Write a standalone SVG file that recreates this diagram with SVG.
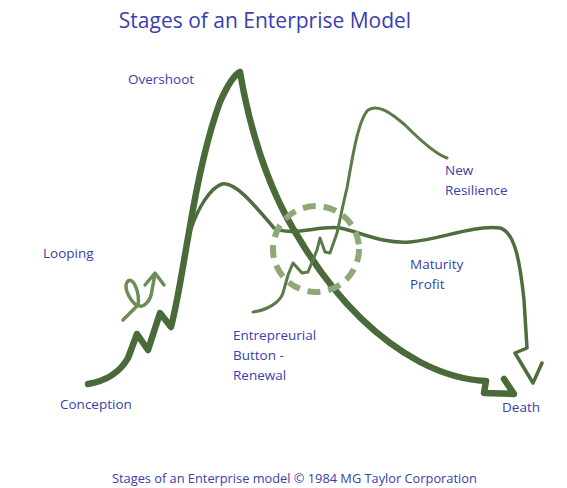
<svg xmlns="http://www.w3.org/2000/svg" width="567" height="488" viewBox="0 0 567 488">
  <style>
    .lbl { font-family: "Open Sans", "Liberation Sans", sans-serif; fill: #3a40ad; font-size: 13.5px; }
    .title { font-size: 21px; }
    .foot { font-size: 12.8px; }
    .thick { fill: none; stroke: #4a6a3a; stroke-width: 6.5; stroke-linecap: round; stroke-linejoin: round; }
    .mid { fill: none; stroke: #4e6e3e; stroke-width: 3.5; stroke-linecap: round; stroke-linejoin: round; }
    .thin { fill: none; stroke: #5a7a48; stroke-width: 3; stroke-linecap: round; stroke-linejoin: round; }
    .light { fill: none; stroke: #6d8d58; stroke-width: 3.5; stroke-linecap: round; stroke-linejoin: round; }
  </style>
  <rect width="567" height="488" fill="#ffffff"/>

  <text class="lbl title" x="265" y="28" text-anchor="middle">Stages of an Enterprise Model</text>

  <g id="curves">
    <!-- growth / overshoot / decline to death -->
    <path id="main-curve" class="thick" d="M88,384 C106,381 120,372 128,358 L137,334 L148,350 L160,313 L171,327 C178,300 183,265 189,232 C196,190 206,140 220,102 C228,84 234,75 240,72 C250,130 268,190 300,240 C330,290 370,335 420,362 C445,375 465,380 486,381 L484,393 L514,394 L504,379"/>
    <!-- maturity / profit branch -->
    <path id="maturity-curve" class="mid" d="M191,229 C198,208 210,188 222,184 C234,181 252,202 274,228 C292,237 320,225 340,228 C360,232 382,244 410,242 C440,240 470,225 500,228 C515,232 520,262 524,300 L527,348 L515,353 L533,383 L542,363"/>
    <!-- renewal / new resilience branch -->
    <path id="resilience-curve" class="thin" d="M253,312 C268,310 280,302 283,293 L288,275 L293,263 L302,273 L308,272 L317,250 L320,238 L325,252 L330,253 L337,233 C341,215 344,200 347,188 C352,160 358,120 368,110 C378,104 390,112 405,125 C420,140 435,154 447,158"/>
    <!-- looping arrow -->
    <path id="looping-arrow" class="light" d="M123,320 L137,306 C128,298 123,286 128,281 C134,277 140,294 138,305 C142,309 151,302 152,290 L155,274 M145,285 L155,273 L164,285"/>
    <!-- renewal window -->
    <circle id="renewal-circle" cx="316" cy="249" r="43" fill="none" stroke="#8fa878" stroke-width="6" stroke-dasharray="13 8"/>
  </g>

  <g id="overshoot"><text class="lbl" x="128" y="84">Overshoot</text></g>
  <g id="looping"><text class="lbl" x="43" y="258">Looping</text></g>
  <g id="conception"><text class="lbl" x="60" y="409">Conception</text></g>
  <g id="renewal">
    <text class="lbl" x="233" y="340">Entrepreurial</text>
    <text class="lbl" x="233" y="360">Button -</text>
    <text class="lbl" x="233" y="380">Renewal</text>
  </g>
  <g id="new-resilience">
    <text class="lbl" x="445" y="175">New</text>
    <text class="lbl" x="445" y="195">Resilience</text>
  </g>
  <g id="maturity">
    <text class="lbl" x="410" y="269">Maturity</text>
    <text class="lbl" x="410" y="289">Profit</text>
  </g>
  <g id="death"><text class="lbl" x="502" y="412">Death</text></g>

  <text class="lbl foot" x="112" y="483">Stages of an Enterprise model © 1984 MG Taylor Corporation</text>
</svg>
